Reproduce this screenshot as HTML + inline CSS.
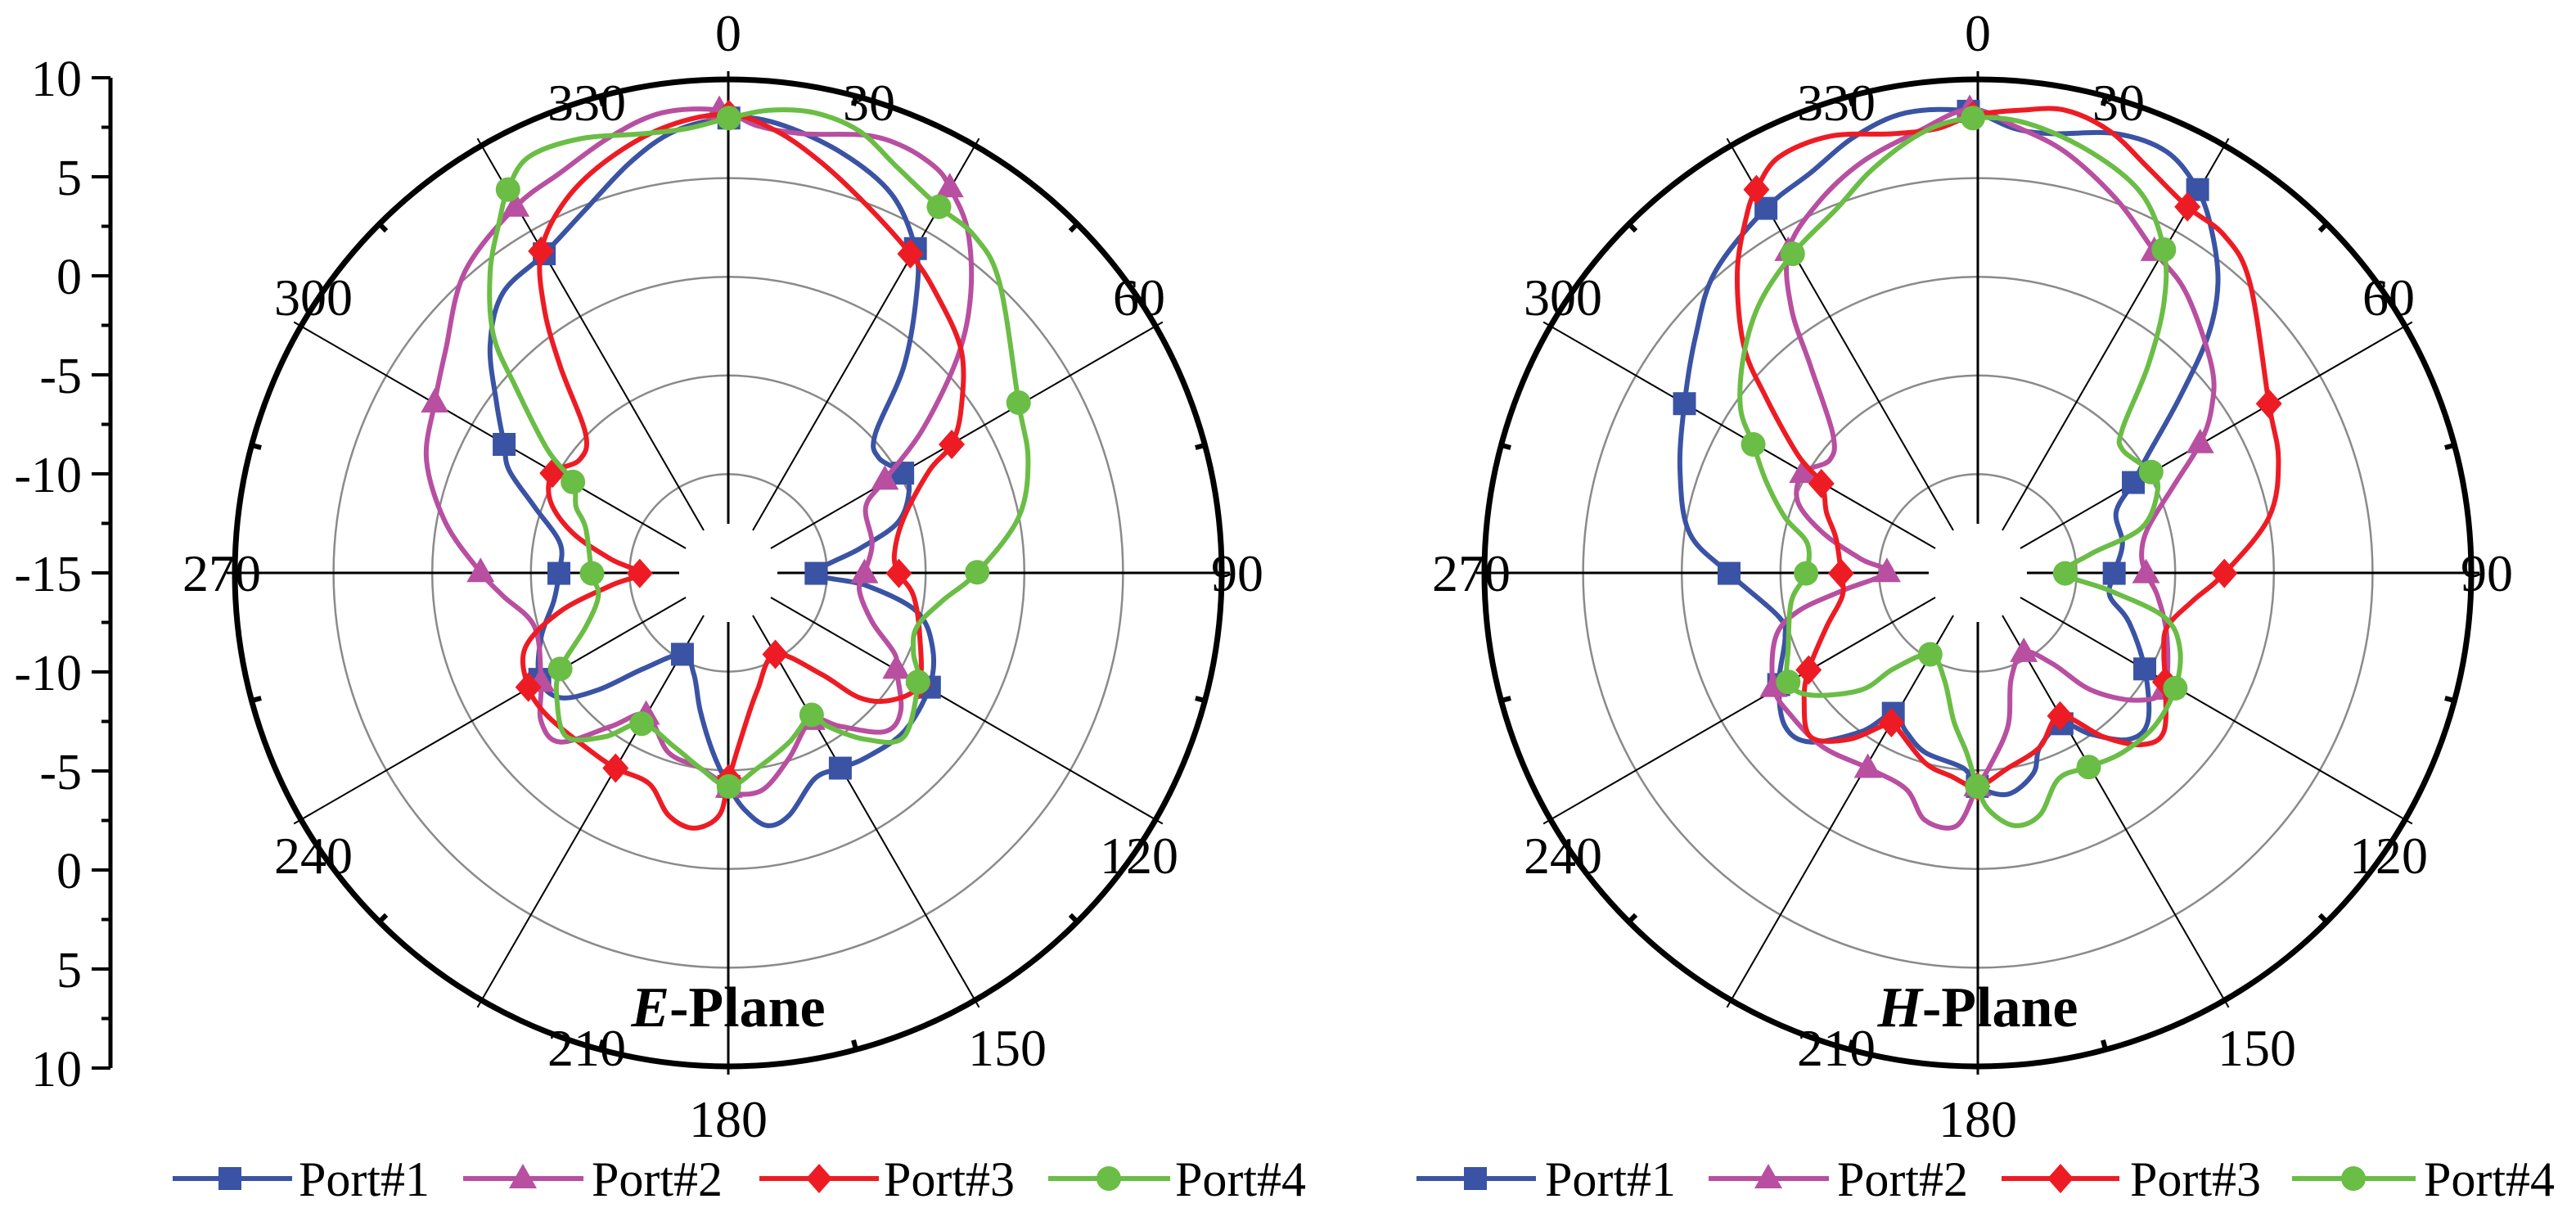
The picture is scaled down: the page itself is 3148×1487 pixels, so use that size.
<!DOCTYPE html>
<html><head><meta charset="utf-8"><style>
html,body{margin:0;padding:0;background:#fff}
svg{display:block}
text{font-family:"Liberation Serif",serif}
</style></head><body>
<svg id="s" width="3148" height="1487" viewBox="0 0 3148 1487" xmlns="http://www.w3.org/2000/svg">
<g id="bg"></g>
<g id="curves"></g>
<g id="lbl" fill="#000" font-size="64">
<text x="890" y="62" text-anchor="middle">0</text>
<text x="717" y="147" text-anchor="middle">330</text>
<text x="1062" y="147" text-anchor="middle">30</text>
<text x="383" y="385" text-anchor="middle">300</text>
<text x="1392" y="385" text-anchor="middle">60</text>
<text x="271" y="722" text-anchor="middle">270</text>
<text x="1512" y="722" text-anchor="middle">90</text>
<text x="383" y="1067" text-anchor="middle">240</text>
<text x="1392" y="1067" text-anchor="middle">120</text>
<text x="717" y="1302" text-anchor="middle">210</text>
<text x="1231" y="1302" text-anchor="middle">150</text>
<text x="890" y="1389" text-anchor="middle">180</text>

<text x="2417" y="62" text-anchor="middle">0</text>
<text x="2244" y="147" text-anchor="middle">330</text>
<text x="2589" y="147" text-anchor="middle">30</text>
<text x="1910" y="385" text-anchor="middle">300</text>
<text x="2919" y="385" text-anchor="middle">60</text>
<text x="1798" y="722" text-anchor="middle">270</text>
<text x="3039" y="722" text-anchor="middle">90</text>
<text x="1910" y="1067" text-anchor="middle">240</text>
<text x="2919" y="1067" text-anchor="middle">120</text>
<text x="2244" y="1302" text-anchor="middle">210</text>
<text x="2758" y="1302" text-anchor="middle">150</text>
<text x="2417" y="1389" text-anchor="middle">180</text>

<text x="890" y="1254" text-anchor="middle" font-weight="bold" font-size="70"><tspan font-style="italic">E</tspan>-Plane</text>
<text x="2417" y="1254" text-anchor="middle" font-weight="bold" font-size="70"><tspan font-style="italic">H</tspan>-Plane</text>
</g>
<g id="axis"></g>
<g id="leg" font-size="60"></g>
</svg>
<script>
var NS="http://www.w3.org/2000/svg";
function el(p,tag,at){var e=document.createElementNS(NS,tag);for(var k in at)e.setAttribute(k,at[k]);p.appendChild(e);return e;}
var bg=document.getElementById('bg'),cv=document.getElementById('curves'),ax=document.getElementById('axis'),lg=document.getElementById('leg');
var R=603;
function grid(cx,cy){
 for(var i=1;i<5;i++)el(bg,'circle',{cx:cx,cy:cy,r:R*i/5,fill:'none',stroke:'#8a8a8a','stroke-width':2.5});
 for(var a=0;a<360;a+=30){var t=a*Math.PI/180,s=Math.sin(t),c=-Math.cos(t);
  el(bg,'line',{x1:cx+60*s,y1:cy+60*c,x2:cx+(R+10)*s,y2:cy+(R+10)*c,stroke:'#000','stroke-width':(a%90==0?3:2)});}
 for(var a=15;a<360;a+=30){var t=a*Math.PI/180,s=Math.sin(t),c=-Math.cos(t);
  el(bg,'line',{x1:cx+(R-12)*s,y1:cy+(R-12)*c,x2:cx+R*s,y2:cy+R*c,stroke:'#000','stroke-width':6});}
 el(bg,'circle',{cx:cx,cy:cy,r:R,fill:'none',stroke:'#000','stroke-width':7});
}
grid(890,700);grid(2417,700);
el(ax,'line',{x1:135,y1:95,x2:135,y2:1305,stroke:'#000','stroke-width':5});
var labs=['10','5','0','-5','-10','-15','-10','-5','0','5','10'];
for(var i=0;i<11;i++){var y=95+i*121;
 el(ax,'line',{x1:112,y1:y,x2:135,y2:y,stroke:'#000','stroke-width':4});
 var t=el(ax,'text',{x:100,y:y+22,'text-anchor':'end','font-size':62});t.textContent=labs[i];
 if(i<10)el(ax,'line',{x1:124,y1:y+60.5,x2:135,y2:y+60.5,stroke:'#000','stroke-width':4});}
var COL=['#3a53a4','#b84fa0','#ed1c24','#6abd45'];
function marker(p,type,x,y,c){
 if(type==0)el(p,'rect',{x:x-14,y:y-14,width:28,height:28,fill:c});
 else if(type==1)el(p,'polygon',{points:(x)+','+(y-18)+' '+(x+17)+','+(y+12)+' '+(x-17)+','+(y+12),fill:c});
 else if(type==2)el(p,'polygon',{points:(x)+','+(y-18)+' '+(x+16)+','+y+' '+x+','+(y+18)+' '+(x-16)+','+y,fill:c});
 else el(p,'circle',{cx:x,cy:y,r:15,fill:c});
}
function curve(ox,pts,ci){
 var P=pts.map(function(p){return [ox+p[0]*0.778,90+p[1]*0.638,p[2]];});
 var n=P.length,d='M'+P[0][0]+','+P[0][1];
 for(var i=0;i<n;i++){var p0=P[(i-1+n)%n],p1=P[i],p2=P[(i+1)%n],p3=P[(i+2)%n];
  d+=' C'+(p1[0]+(p2[0]-p0[0])/6)+','+(p1[1]+(p2[1]-p0[1])/6)+' '+(p2[0]-(p3[0]-p1[0])/6)+','+(p2[1]-(p3[1]-p1[1])/6)+' '+p2[0]+','+p2[1];}
 el(cv,'path',{d:d,fill:'none',stroke:COL[ci],'stroke-width':6,'stroke-linejoin':'round'});
 P.forEach(function(p){if(p[2])marker(cv,ci,p[0],p[1],COL[ci]);});
}
var E=[
[[785,85,1],[860,95],[960,150],[1040,230],[1078,335,1],[1080,420],[1060,560],[1015,690],[1020,735],[1058,765,1],[1068,800],[1050,860],[990,910],[922,957,1],[1000,980],[1080,1030],[1105,1100],[1100,1175,1],[1060,1260],[1000,1310],[960,1330,1],[920,1350],[880,1420],[845,1440],[810,1410],[785,1365,1],[760,1300],[740,1220],[730,1150],[712,1112,1],[650,1140],[580,1180],[520,1195],[488,1160,1],[490,1080],[510,1010],[518,957,1],[520,900],[480,830],[440,760],[432,710,1],[420,630],[410,520],[430,420],[495,345,1],[560,260],[630,170],[700,110]],
[[770,70,1],[830,100],[900,115],[1000,118],[1060,140],[1110,180],[1132,218,1],[1160,300],[1165,420],[1145,540],[1090,680],[1030,778,1],[1000,830],[1010,900],[998,957,1],[990,990],[1010,1050],[1045,1110],[1048,1140,1],[1055,1220],[1030,1260],[960,1250],[915,1238,1],[880,1310],[840,1370],[800,1380],[785,1368,1],[740,1330],[690,1300],[655,1228,1],[600,1250],[520,1280],[490,1240],[490,1165,1],[480,1060],[430,1000],[395,955,1],[340,860],[310,740],[323,630,1],[340,530],[370,380],[450,255,1],[520,190],[600,120],[680,75]],
[[785,78,1],[860,110],[930,170],[1000,250],[1070,345,1],[1110,420],[1150,530],[1150,640],[1135,710,1],[1100,760],[1060,850],[1045,920],[1052,957,1],[1075,1000],[1085,1080],[1083,1170,1],[1040,1200],[990,1195],[930,1150],[858,1112,1],[830,1180],[810,1250],[785,1350,1],[770,1420],[730,1445],[690,1420],[660,1360],[607,1330,1],[560,1290],[500,1230],[470,1175,1],[465,1100],[520,1030],[600,980],[645,957,1],[600,930],[540,880],[505,820],[508,765,1],[550,740],[560,690],[520,560],[495,450],[490,340,1],[530,240],[600,160],[690,100]],
[[785,85,1],[850,70],[920,75],[990,110],[1050,180],[1115,255,1],[1170,310],[1210,400],[1240,630,1],[1255,740],[1240,850],[1175,955,1],[1120,1010],[1080,1060],[1075,1110],[1082,1165,1],[1060,1270],[1000,1275],[940,1250],[915,1228,1],[880,1280],[830,1330],[785,1365,1],[740,1330],[700,1290],[648,1245,1],[590,1270],[530,1270],[515,1200],[520,1140,1],[560,1060],[580,1000],[570,957,1],[560,870],[545,830],[540,782,1],[500,720],[450,600],[415,500],[410,380],[425,280],[438,222,1],[470,160],[550,125],[650,115],[720,105]]
];
var H=[
[[768,72,1],[840,105],[900,115],[1000,115],[1080,150],[1128,222,1],[1150,300],[1160,400],[1145,500],[1100,620],[1050,730],[1027,783,1],[1000,840],[1010,900],[997,957,1],[990,1000],[1020,1050],[1045,1140,1],[1050,1240],[1020,1275],[960,1265],[915,1245,1],[880,1290],[870,1340],[830,1380],[782,1365,1],[760,1330],[700,1300],[670,1260],[650,1225,1],[600,1260],[520,1280],[480,1250],[470,1170,1],[480,1080],[470,1040],[392,957,1],[330,880],[315,760],[322,632,1],[340,500],[370,380],[450,258,1],[520,190],[590,120],[670,75]],
[[770,68,1],[840,100],[920,150],[1000,240],[1060,340,1],[1110,420],[1150,560],[1150,640],[1132,708,1],[1090,790],[1050,870],[1040,920],[1047,957,1],[1065,1000],[1080,1080],[1075,1180,1],[1030,1200],[960,1180],[900,1130],[855,1108,1],[835,1160],[830,1250],[800,1330],[782,1365,1],[750,1440],[700,1430],[670,1370],[610,1330,1],[540,1290],[490,1230],[462,1175,1],[465,1080],[500,1030],[570,990],[640,955,1],[600,930],[540,880],[500,820],[508,765,1],[550,740],[555,690],[520,560],[490,450],[485,340,1],[530,250],[600,170],[690,110]],
[[775,80,1],[850,70],[920,70],[990,110],[1050,180],[1112,255,1],[1170,310],[1210,400],[1240,632,1],[1255,740],[1240,850],[1170,957,1],[1120,1010],[1080,1060],[1075,1110],[1077,1165,1],[1075,1260],[1040,1285],[980,1270],[912,1230,1],[880,1290],[830,1330],[782,1365,1],[740,1345],[700,1320],[660,1260],[647,1243,1],[580,1275],[520,1270],[510,1200],[517,1142,1],[545,1060],[570,1000],[568,957,1],[560,890],[545,840],[537,785,1],[500,730],[450,620],[415,520],[405,380],[420,270],[435,222,1],[470,160],[550,120],[650,115],[720,105]],
[[775,85,1],[860,95],[960,150],[1040,230],[1075,337,1],[1075,440],[1050,560],[1010,680],[1010,720],[1055,763,1],[1065,800],[1040,870],[960,920],[920,957,1],[990,990],[1075,1040],[1100,1100],[1093,1177,1],[1060,1250],[1010,1300],[957,1328,1],[910,1350],[880,1420],[840,1440],[800,1410],[782,1365,1],[765,1300],[745,1240],[730,1160],[708,1112,1],[650,1140],[600,1180],[520,1190],[485,1165,1],[485,1100],[490,1010],[513,957,1],[515,900],[480,850],[450,780],[430,710,1],[410,640],[415,540],[440,440],[492,345,1],[560,260],[620,180],[700,110]]
];
for(var i=0;i<4;i++)curve(280,E[i],i);
for(var i=0;i<4;i++)curve(1808,H[i],i);
var L=[[211,357,281,365],[566,713,639,723],[928,1074,1001,1080],[1281,1430,1355,1436],[1731,1877,1803,1888],[2088,2235,2161,2245],[2446,2590,2518,2603],[2801,2952,2876,2962]];
L.forEach(function(l,i){var c=COL[i%4];
 el(lg,'line',{x1:l[0],y1:1440,x2:l[1],y2:1440,stroke:c,'stroke-width':6});
 marker(lg,i%4,l[2],1440,c);
 var t=el(lg,'text',{x:l[3],y:1461});t.textContent='Port#'+(i%4+1);});
</script>
</body></html>
